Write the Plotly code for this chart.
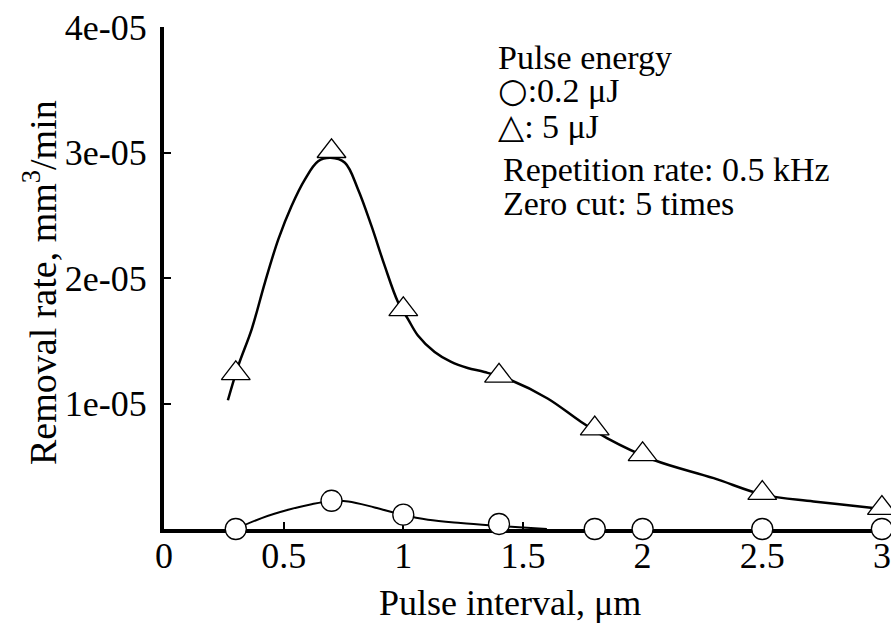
import plotly.graph_objects as go

# Measured points
pulse_interval = [0.3, 0.7, 1.0, 1.4, 1.8, 2.0, 2.5, 3.0]
rate_5uJ = [1.24e-5, 3.01e-5, 1.75e-5, 1.22e-5, 0.80e-5, 0.595e-5, 0.286e-5, 0.167e-5]
rate_02uJ = [0.0, 0.225e-5, 0.114e-5, 0.04e-5, 0.0, 0.0, 0.0, 0.0]

# Smooth fit curves
fit5_x = [0.267, 0.311, 0.367, 0.422, 0.478, 0.533, 0.589, 0.644, 0.696, 0.756, 0.811,
          0.867, 0.922, 0.978, 1.019, 1.061, 1.131, 1.2, 1.269, 1.339, 1.45, 1.603,
          1.742, 1.853, 2.047, 2.297, 2.506, 2.714, 2.964, 3.0]
fit5_y = [1.026e-5, 1.304e-5, 1.595e-5, 1.966e-5, 2.31e-5, 2.574e-5, 2.786e-5, 2.93e-5,
          2.958e-5, 2.918e-5, 2.706e-5, 2.415e-5, 2.098e-5, 1.807e-5, 1.675e-5, 1.542e-5,
          1.41e-5, 1.331e-5, 1.283e-5, 1.251e-5, 1.185e-5, 1.04e-5, 0.855e-5, 0.722e-5,
          0.55e-5, 0.405e-5, 0.272e-5, 0.22e-5, 0.167e-5, 0.16e-5]
fit02_x = [0.3, 0.408, 0.519, 0.617, 0.693, 0.77, 0.88, 0.995, 1.103, 1.24, 1.4, 1.5, 1.6]
fit02_y = [0.0, 0.087e-5, 0.153e-5, 0.198e-5, 0.222e-5, 0.22e-5, 0.172e-5, 0.114e-5,
           0.074e-5, 0.048e-5, 0.025e-5, 0.012e-5, 0.0]

y_tickvals = [1e-5, 2e-5, 3e-5, 4e-5]
y_ticktext = ["1e-05", "2e-05", "3e-05", "4e-05"]
x_tickvals = [0, 0.5, 1, 1.5, 2, 2.5, 3]
x_ticktext = ["0", "0.5", "1", "1.5", "2", "2.5", "3"]

FONT = "Liberation Serif, Times New Roman, serif"

fig = go.Figure()
fig.add_trace(go.Scatter(x=fit5_x, y=fit5_y, mode="lines",
                         line=dict(color="black", width=2.5, shape="spline"),
                         hoverinfo="skip", showlegend=False, cliponaxis=False))
fig.add_trace(go.Scatter(x=fit02_x, y=fit02_y, mode="lines",
                         line=dict(color="black", width=2, shape="spline"),
                         hoverinfo="skip", showlegend=False, cliponaxis=False))
fig.add_trace(go.Scatter(x=pulse_interval, y=rate_5uJ, mode="markers", name="5 μJ",
                         marker=dict(symbol="triangle-up", size=25, color="white",
                                     line=dict(color="black", width=1.3)),
                         showlegend=False, cliponaxis=False))
fig.add_trace(go.Scatter(x=pulse_interval, y=rate_02uJ, mode="markers", name="0.2 μJ",
                         marker=dict(symbol="circle", size=21, color="white",
                                     line=dict(color="black", width=1.3)),
                         showlegend=False, cliponaxis=False))

fig.update_layout(
    width=891, height=624,
    margin=dict(l=164, r=0, t=27, b=95),
    paper_bgcolor="white", plot_bgcolor="white",
    font=dict(family=FONT, size=36, color="black"),
    xaxis=dict(range=[0, 3.038], showgrid=False, zeroline=False,
               showline=True, linecolor="black", linewidth=4, layer="below traces",
               ticks="inside", ticklen=7, tickwidth=2, tickcolor="black",
               tickvals=x_tickvals, ticktext=x_ticktext, ticklabelstandoff=-8,
               tickfont=dict(family=FONT, size=36)),
    yaxis=dict(range=[0, 4e-5], showgrid=False, zeroline=False,
               showline=True, linecolor="black", linewidth=4, layer="below traces",
               ticks="inside", ticklen=7, tickwidth=2, tickcolor="black",
               tickvals=y_tickvals, ticktext=y_ticktext, ticklabelstandoff=6,
               tickfont=dict(family=FONT, size=36)),
)

# Axis titles
fig.add_annotation(text="Pulse interval, μm", xref="paper", yref="paper",
                   x=(510 - 164) / 727, y=-(603 - 529) / 502, xanchor="center", yanchor="middle",
                   showarrow=False, font=dict(family=FONT, size=36))
fig.add_annotation(text="Removal rate, mm<sup>3</sup>/min", xref="paper", yref="paper",
                   x=-(164 - 40) / 727, y=(529 - 283) / 502, xanchor="center", yanchor="middle",
                   textangle=-90, showarrow=False, font=dict(family=FONT, size=38))

# Legend-like text block
lines = [
    ("Pulse energy", 497, 57),
    ('<span style="font-family:DejaVu Sans">○</span>:0.2 μJ', 497, 90),
    ('<span style="font-family:DejaVu Sans">△</span>: 5 μJ', 497, 126),
    ("Repetition rate: 0.5 kHz", 502, 169),
    ("Zero cut: 5 times", 502, 203),
]
for txt, px, py in lines:
    fig.add_annotation(text=txt, xref="paper", yref="paper",
                       x=(px - 164) / 727, y=(529 - py) / 502, height=38, borderpad=0,
                       xanchor="left", yanchor="middle", showarrow=False,
                       font=dict(family=FONT, size=34))

fig.write_html("out.html")
